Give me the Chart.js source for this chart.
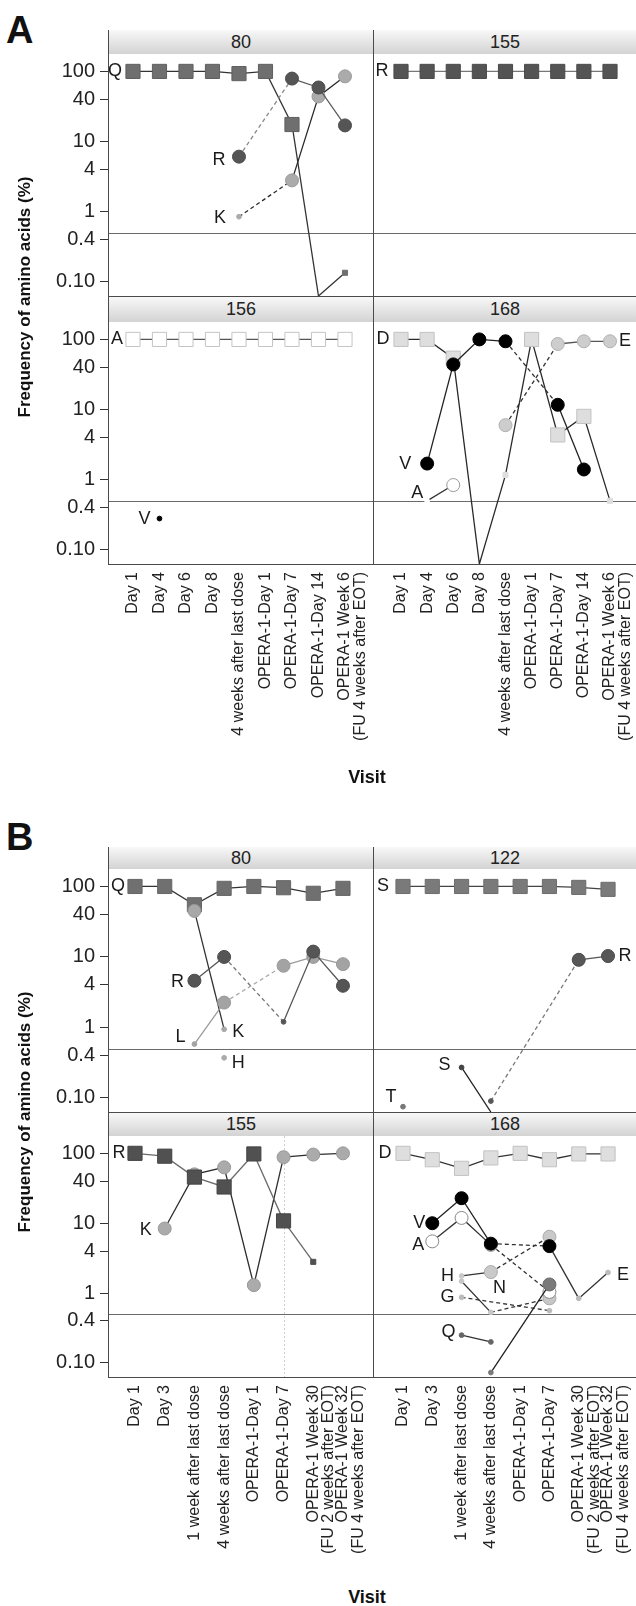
<!DOCTYPE html>
<html>
<head>
<meta charset="utf-8">
<script src="https://cdn.jsdelivr.net/npm/chart.js@4.4.1/dist/chart.umd.min.js"></script>
<style>
  body { margin: 0; background: #fff; width: 636px; height: 1606px; position: relative; overflow: hidden;
         font-family: "Liberation Sans", Arial, Helvetica, sans-serif; color: #222; }
  canvas { position: absolute; }
  .strip { position: absolute; background: linear-gradient(#f8f8f8, #d3d3d3); text-align: center; font-size: 18px; color: #222; }
  .vline { position: absolute; width: 1px; background: #4a4a4a; }
  .hline { position: absolute; height: 1px; background: #4a4a4a; }
  .panel { position: absolute; font-weight: bold; font-size: 38px; line-height: 38px; color: #111; }
  .ytitle { position: absolute; width: 400px; height: 20px; line-height: 20px; text-align: center; font-weight: bold;
            font-size: 17px; transform: rotate(-90deg); white-space: nowrap; color: #111; }
  .xtitle { position: absolute; width: 200px; text-align: center; font-weight: bold; font-size: 18px; color: #111; }
</style>
</head>
<body>
<script>
// ---- data ----
const visitsA = ['Day 1', 'Day 4', 'Day 6', 'Day 8', '4 weeks after last dose', 'OPERA-1-Day 1',
  'OPERA-1-Day 7', 'OPERA-1-Day 14', ['OPERA-1 Week 6', '(FU 4 weeks after EOT)']];
const visitsB = ['Day 1', 'Day 3', '1 week after last dose', '4 weeks after last dose', 'OPERA-1-Day 1',
  'OPERA-1-Day 7', ['OPERA-1 Week 30', '(FU 2 weeks after EOT)'], ['OPERA-1 Week 32', '(FU 4 weeks after EOT)']];
const facetTitlesA = ['80', '155', '156', '168'];
const facetTitlesB = ['80', '122', '155', '168'];
const yTicks = [0.1, 0.4, 1, 4, 10, 40, 100];
const yTickLabels = ['0.10', '0.4', '1', '4', '10', '40', '100'];
const limitLine = 0.5;
const Y_MIN = 0.063, Y_MAX = 177;

// panel A
const a80_Q = [100, 100, 100, 100, 93, 100, 17.5, 0.063, 0.135];
const a80_R = [null, null, null, null, 6.1, null, 79, 59, 17];
const a80_K = [null, null, null, null, 0.85, null, 2.8, 44, 85];
const a155_R = [100, 100, 100, 100, 100, 100, 100, 100, 100];
const a156_A = [100, 100, 100, 100, 100, 100, 100, 100, 100];
const a156_V = [null, 0.28, null, null, null, null, null, null, null];
const a168_D = [100, 100, 54, 0.063, 1.17, 100, 4.35, 8, 0.5];
const a168_V = [null, 1.7, 44, 100, 94, null, 11.7, 1.4, null];
const a168_A = [null, 0.5, 0.84, null, null, null, null, null, null];
const a168_E = [null, null, null, null, 6.0, null, 86, 94, 94];

// panel B
const b80_Q = [100, 100, 55, 94, 100, 96, 80, 94];
const b80_K = [null, null, 45, 0.94, null, null, null, null];
const b80_L = [null, null, 0.58, 2.25, null, 7.5, 10, 7.9];
const b80_R = [null, null, 4.6, 10, null, 1.2, 11.9, 3.9];
const b80_H = [null, null, null, 0.37, null, null, null, null];
const b122_S = [100, 100, 100, 100, 100, 100, 97, 91];
const b122_Sminor = [null, null, 0.27, 0.063, null, null, null, null];
const b122_R = [null, null, null, 0.09, null, null, 9.1, 10.3];
const b122_T = [0.075, null, null, null, null, null, null, null];
const b155_R = [100, 91, 45.7, 33, 98, 10.8, 2.8, null];
const b155_K = [null, 8.4, 50, 63, 1.3, 88, 96, 100];
const b168_D = [100, 81, 61, 86, 100, 81, 98, 98];
const b168_V = [null, 10, 22.8, 5.1, null, 4.7, null, null];
const b168_A = [null, 5.5, 11.9, 4.9, null, 1.04, null, null];
const b168_E = [null, null, null, null, null, 4.7, 0.84, 1.97];
const b168_H = [null, null, 1.76, 2.0, null, 6.4, null, null];
const b168_N = [null, null, null, 0.073, null, 1.33, null, null];
const b168_G = [null, null, 0.87, null, null, 0.56, null, null];
const b168_other = [null, null, 1.48, 0.53, null, 0.84, null, null];
const b168_Q = [null, null, 0.25, 0.2, null, null, null, null];

// ---- layout / style ----
const FONT = '"Liberation Sans", Arial, Helvetica, sans-serif';
const Y_AXIS_W = 108, X_AXIS_H = 200, X_LINE_H = 15.5, X_FONT = 16;
const RADIUS = { circle: { L: 6.5, S: 2.4, '0': 0 }, rect: { L: 10, S: 3.6, '0': 0 } };

// series listed bottom layer first
const facets = [
  { left: 0, top: 54, w: 373, h: 242, yAxis: true, xAxis: false, xMin: -0.943, xMax: 9.057, visits: visitsA, series: [
    { values: a80_Q, shape: 'rect', sizes: 'LLLLLLL0S', fill: '#6f6f6f', edge: '#5f5f5f', line: '#333', label: { text: 'Q', at: 0, dx: -18, dy: 0 } },
    { values: a80_K, shape: 'circle', sizes: '....S.LLL', fill: '#ababab', edge: '#999', line: '#2a2a2a', label: { text: 'K', at: 4, dx: -19, dy: 1 } },
    { values: a80_R, shape: 'circle', sizes: '....L.LLL', fill: '#555', edge: '#4a4a4a', line: '#5a5a5a', dash: '#888', label: { text: 'R', at: 4, dx: -20, dy: 3 } }
  ] },
  { left: 373, top: 54, w: 263, h: 242, yAxis: false, xAxis: false, xMin: -1.072, xMax: 8.995, visits: visitsA, series: [
    { values: a155_R, shape: 'rect', sizes: 'LLLLLLLLL', fill: '#545454', edge: '#4a4a4a', line: '#777', label: { text: 'R', at: 0, dx: -19, dy: 0 } }
  ] },
  { left: 0, top: 322, w: 373, h: 242 + X_AXIS_H, yAxis: true, xAxis: true, xMin: -0.943, xMax: 9.057, visits: visitsA, series: [
    { values: a156_A, shape: 'rect', sizes: 'LLLLLLLLL', fill: '#fff', edge: '#c4c4c4', line: '#555', label: { text: 'A', at: 0, dx: -16, dy: 0 } },
    { values: a156_V, shape: 'circle', sizes: '.S', fill: '#000', edge: '#000', line: '#000', label: { text: 'V', at: 1, dx: -15, dy: 0 } }
  ] },
  { left: 373, top: 322, w: 263, h: 242 + X_AXIS_H, yAxis: false, xAxis: true, xMin: -1.072, xMax: 8.995, visits: visitsA, series: [
    { values: a168_D, shape: 'rect', sizes: 'LLL0SLLLS', fill: '#dedede', edge: '#c2c2c2', line: '#2a2a2a', label: { text: 'D', at: 0, dx: -18, dy: 0 } },
    { values: a168_E, shape: 'circle', sizes: '....L.LLL', fill: '#cdcdcd', edge: '#b0b0b0', line: '#555', dash: '#333', label: { text: 'E', at: 8, dx: 15, dy: 0 } },
    { values: a168_A, shape: 'circle', sizes: '.SL', fill: '#fff', edge: '#999', line: '#333', label: { text: 'A', at: 1, dx: -10, dy: -8 } },
    { values: a168_V, shape: 'circle', sizes: '.LLLL.LL', fill: '#000', edge: '#000', line: '#222', dash: '#333', label: { text: 'V', at: 1, dx: -22, dy: 0 } }
  ] },
  { left: 0, top: 869, w: 373, h: 243, yAxis: true, xAxis: false, xMin: -0.909, xMax: 8.011, visits: visitsB, series: [
    { values: b80_Q, shape: 'rect', sizes: 'LLLLLLLL', fill: '#707070', edge: '#666', line: '#333', label: { text: 'Q', at: 0, dx: -17, dy: 0 } },
    { values: b80_K, shape: 'circle', sizes: '..LS', fill: '#a8a8a8', edge: '#999', line: '#333', label: { text: 'K', at: 3, dx: 14, dy: 3 } },
    { values: b80_L, shape: 'circle', sizes: '..SL.LLL', fill: '#a3a3a3', edge: '#999', line: '#9a9a9a', dash: '#aaa', label: { text: 'L', at: 2, dx: -14, dy: -7 } },
    { values: b80_R, shape: 'circle', sizes: '..LL.SLL', fill: '#555', edge: '#4a4a4a', line: '#555', dash: '#777', label: { text: 'R', at: 2, dx: -17, dy: 1 } },
    { values: b80_H, shape: 'circle', sizes: '...S', fill: '#aaa', edge: '#aaa', line: '#aaa', label: { text: 'H', at: 3, dx: 14, dy: 5 } }
  ] },
  { left: 373, top: 869, w: 263, h: 243, yAxis: false, xAxis: false, xMin: -1.024, xMax: 7.955, visits: visitsB, series: [
    { values: b122_S, shape: 'rect', sizes: 'LLLLLLLL', fill: '#7a7a7a', edge: '#6d6d6d', line: '#444', label: { text: 'S', at: 0, dx: -20, dy: 0 } },
    { values: b122_R, shape: 'circle', sizes: '...S..LL', fill: '#575757', edge: '#4a4a4a', line: '#555', dash: '#777', label: { text: 'R', at: 7, dx: 17, dy: 0 } },
    { values: b122_Sminor, shape: 'circle', sizes: '..S0', fill: '#444', edge: '#444', line: '#222', label: { text: 'S', at: 2, dx: -17, dy: -2 } },
    { values: b122_T, shape: 'circle', sizes: 'S', fill: '#777', edge: '#777', line: '#777', label: { text: 'T', at: 0, dx: -12, dy: -10 } }
  ] },
  { left: 0, top: 1136, w: 373, h: 241 + X_AXIS_H, yAxis: true, xAxis: true, xMin: -0.909, xMax: 8.011, visits: visitsB, vlines: [5], series: [
    { values: b155_K, shape: 'circle', sizes: '.LLLLLLL', fill: '#ababab', edge: '#999', line: '#2e2e2e', label: { text: 'K', at: 1, dx: -19, dy: 2 } },
    { values: b155_R, shape: 'rect', sizes: 'LLLLLLS.', fill: '#515151', edge: '#444', line: '#6a6a6a', label: { text: 'R', at: 0, dx: -16, dy: 0 } }
  ] },
  { left: 373, top: 1136, w: 263, h: 241 + X_AXIS_H, yAxis: false, xAxis: true, xMin: -1.024, xMax: 7.955, visits: visitsB, series: [
    { values: b168_D, shape: 'rect', sizes: 'LLLLLLLL', fill: '#dedede', edge: '#c2c2c2', line: '#333', label: { text: 'D', at: 0, dx: -18, dy: 0 } },
    { values: b168_Q, shape: 'circle', sizes: '..SS', fill: '#666', edge: '#666', line: '#333', label: { text: 'Q', at: 2, dx: -13, dy: -3 } },
    { values: b168_G, shape: 'circle', sizes: '..S..S', fill: '#bbb', edge: '#aaa', line: '#333', dash: '#333', label: { text: 'G', at: 2, dx: -14, dy: 0 } },
    { values: b168_other, shape: 'circle', sizes: '..SS.L', fill: '#c6c6c6', edge: '#aaa', line: '#333', dash: '#333' },
    { values: b168_A, shape: 'circle', sizes: '.LLL.L', fill: '#fff', edge: '#888', line: '#333', dash: '#333', label: { text: 'A', at: 1, dx: -14, dy: 4 } },
    { values: b168_N, shape: 'circle', sizes: '...S.L', fill: '#7a7a7a', edge: '#6a6a6a', line: '#222', solidGaps: true, label: { text: 'N', at: 5, dx: -50, dy: 4 } },
    { values: b168_H, shape: 'circle', sizes: '..SL.L', fill: '#c9c9c9', edge: '#aaa', line: '#333', dash: '#333', label: { text: 'H', at: 2, dx: -14, dy: 0 } },
    { values: b168_E, shape: 'circle', sizes: '.....0SS', fill: '#bbb', edge: '#aaa', line: '#333', label: { text: 'E', at: 7, dx: 15, dy: 3 } },
    { values: b168_V, shape: 'circle', sizes: '.LLL.L', fill: '#000', edge: '#000', line: '#222', dash: '#333', label: { text: 'V', at: 1, dx: -13, dy: 0 } }
  ] }
];

// reference line at the detection limit, optional dotted vertical lines
const refLines = {
  id: 'refLines',
  beforeDatasetsDraw(chart, args, opts) {
    const { ctx, chartArea: a, scales: { x, y } } = chart;
    ctx.save();
    ctx.strokeStyle = '#6a6a6a';
    ctx.lineWidth = 1;
    const py = Math.round(y.getPixelForValue(limitLine)) + 0.5;
    ctx.beginPath(); ctx.moveTo(a.left, py); ctx.lineTo(a.right, py); ctx.stroke();
    ctx.strokeStyle = '#d0d0d0';
    ctx.setLineDash([2, 2]);
    (opts.vlines || []).forEach(v => {
      const px = Math.round(x.getPixelForValue(v)) + 0.5;
      ctx.beginPath(); ctx.moveTo(px, a.top); ctx.lineTo(px, a.bottom); ctx.stroke();
    });
    ctx.restore();
  }
};

// amino acid letters next to a chosen point of each series
const seriesLabels = {
  id: 'seriesLabels',
  afterDatasetsDraw(chart) {
    const ctx = chart.ctx;
    ctx.save();
    ctx.font = '18px ' + FONT;
    ctx.fillStyle = '#1a1a1a';
    ctx.textAlign = 'center';
    ctx.textBaseline = 'middle';
    chart.data.datasets.forEach((ds, di) => {
      const lab = ds.series.label;
      if (!lab) return;
      const k = ds.data.findIndex(p => p.x === lab.at);
      const el = chart.getDatasetMeta(di).data[k];
      if (el) ctx.fillText(lab.text, el.x + lab.dx, el.y + lab.dy);
    });
    ctx.restore();
  }
};

function makeDataset(s) {
  const data = s.values.map((v, i) => v == null ? null : { x: i, y: v }).filter(p => p);
  const gap = c => data[c.p1DataIndex].x - data[c.p0DataIndex].x;
  const rad = c => (c.raw ? RADIUS[s.shape][s.sizes[c.raw.x]] || 0 : 0);
  return {
    data, series: s,
    borderColor: s.line, borderWidth: 1.3, tension: 0, fill: false,
    pointStyle: s.shape,
    pointRadius: rad, pointHoverRadius: rad,
    pointBackgroundColor: s.fill,
    pointBorderColor: c => (c.raw && s.sizes[c.raw.x] === 'S') ? s.fill : s.edge,
    pointBorderWidth: 1,
    segment: {
      borderDash: c => (!s.solidGaps && gap(c) > 1) ? [4, 3] : undefined,
      borderColor: c => (gap(c) > 1 && s.dash) ? s.dash : undefined
    }
  };
}

function makeFacet(f) {
  const canvas = document.createElement('canvas');
  canvas.width = f.w; canvas.height = f.h;
  canvas.style.left = f.left + 'px'; canvas.style.top = f.top + 'px';
  document.body.appendChild(canvas);
  new Chart(canvas.getContext('2d'), {
    type: 'line',
    data: { datasets: f.series.slice().reverse().map(makeDataset) },
    options: {
      responsive: false, animation: false, devicePixelRatio: 1,
      layout: { padding: 0, autoPadding: false },
      plugins: { legend: { display: false }, tooltip: { enabled: false }, refLines: { vlines: f.vlines || [] } },
      scales: {
        x: {
          type: 'linear', min: f.xMin, max: f.xMax, bounds: 'data', display: f.xAxis,
          afterBuildTicks: s => { s.ticks = f.visits.map((l, i) => ({ value: i })); },
          afterFit: s => { if (f.xAxis) s.height = X_AXIS_H; s.paddingLeft = 0; s.paddingRight = 0; },
          grid: { display: false, drawTicks: false },
          border: { display: false },
          ticks: {
            autoSkip: false, minRotation: 90, maxRotation: 90, padding: 8, color: '#222',
            font: { family: FONT, size: X_FONT, lineHeight: X_LINE_H / X_FONT },
            callback: (v, i) => f.visits[i]
          }
        },
        y: {
          type: 'logarithmic', min: Y_MIN, max: Y_MAX, bounds: 'data', display: f.yAxis,
          afterBuildTicks: s => { s.ticks = yTicks.map(v => ({ value: v })); },
          afterFit: s => { if (f.yAxis) s.width = Y_AXIS_W; s.paddingTop = 0; s.paddingBottom = 0; },
          grid: { display: true, drawOnChartArea: false, drawTicks: true, tickLength: 8, tickColor: '#333', color: '#333' },
          border: { display: false },
          ticks: { autoSkip: false, padding: 5, color: '#222', font: { family: FONT, size: 20 }, callback: (v, i) => yTickLabels[i] }
        }
      }
    },
    plugins: [refLines, seriesLabels]
  });
}

facets.forEach(makeFacet);

// strips, frame lines and titles
function add(cls, css, text) {
  const d = document.createElement('div');
  d.className = cls;
  Object.assign(d.style, css);
  if (text != null) d.textContent = text;
  document.body.appendChild(d);
}
function strip(x, y, w, h, t) {
  add('strip', { left: x + 'px', top: y + 'px', width: w + 'px', height: h + 'px', lineHeight: h + 'px' }, t);
}
strip(109, 30, 264, 24, facetTitlesA[0]); strip(374, 30, 262, 24, facetTitlesA[1]);
strip(109, 297, 264, 25, facetTitlesA[2]); strip(374, 297, 262, 25, facetTitlesA[3]);
strip(109, 847, 264, 22, facetTitlesB[0]); strip(374, 847, 262, 22, facetTitlesB[1]);
strip(109, 1113, 264, 23, facetTitlesB[2]); strip(374, 1113, 262, 23, facetTitlesB[3]);

[[30, 535], [847, 531]].forEach(([t, h]) => {
  add('vline', { left: '108px', top: t + 'px', height: h + 'px' });
  add('vline', { left: '373px', top: t + 'px', height: h + 'px' });
});
[296, 564, 1112, 1377].forEach(y => add('hline', { left: '108px', top: y + 'px', width: '528px' }));

add('panel', { left: '6px', top: '11px' }, 'A');
add('panel', { left: '6px', top: '818px' }, 'B');
add('ytitle', { left: (25 - 200) + 'px', top: (297 - 10) + 'px' }, 'Frequency of amino acids (%)');
add('ytitle', { left: (25 - 200) + 'px', top: (1112 - 10) + 'px' }, 'Frequency of amino acids (%)');
add('xtitle', { left: (367 - 100) + 'px', top: '767px' }, 'Visit');
add('xtitle', { left: (367 - 100) + 'px', top: '1587px' }, 'Visit');
</script>
</body>
</html>
